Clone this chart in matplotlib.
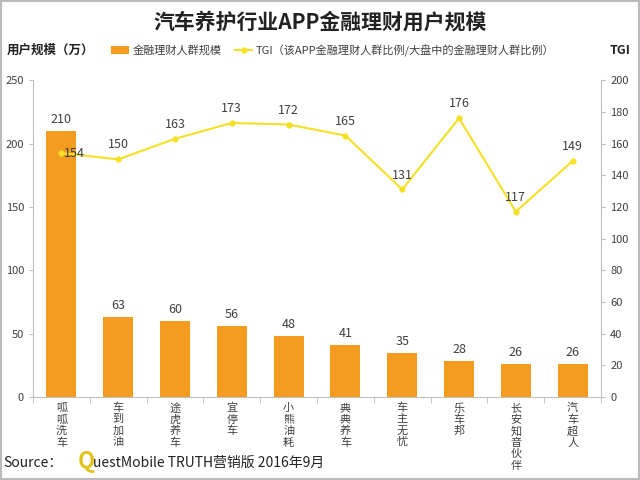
import matplotlib
matplotlib.use('Agg')
import matplotlib.pyplot as plt
import numpy as np

plt.rcParams['font.family'] = ['Noto Sans CJK SC', 'DejaVu Sans']

apps = ['呱呱洗车', '车到加油', '途虎养车', '宜停车', '小熊油耗',
        '典典养车', '车主无忧', '乐车邦', '长安知音伙伴', '汽车超人']
users = [210, 63, 60, 56, 48, 41, 35, 28, 26, 26]
tgi = [154, 150, 163, 173, 172, 165, 131, 176, 117, 149]

bar_color = '#F39C1F'
line_color = '#F5E026'
text_color = '#404040'

fig = plt.figure(figsize=(6.4, 4.8), dpi=100)
fig.patches.append(plt.Rectangle((0.002, 0.002), 0.996, 0.996, transform=fig.transFigure,
                                 fill=False, edgecolor='#BBBBBB', linewidth=1.5))

ax = fig.add_axes([0.0516, 0.173, 0.8875, 0.66])
x = np.arange(len(apps))
ax.bar(x, users, width=0.53, color=bar_color, label='金融理财人群规模')
for xi, v in zip(x, users):
    ax.text(xi, v + 4, str(v), ha='center', va='bottom', fontsize=9, color=text_color)

ax.set_ylim(0, 250)
ax.set_yticks(range(0, 251, 50))
ax.set_xlim(-0.5, len(apps) - 0.5)
ax.set_xticks(x)
ax.set_xticklabels([])
# vertical (stacked) category labels, one character per row
for xi, name in zip(x, apps):
    for j, ch in enumerate(name):
        ax.annotate(ch, xy=(xi, 0), xycoords=('data', 'axes fraction'),
                    xytext=(0, -6 - j * 11.5), textcoords='offset pixels',
                    ha='center', va='top', fontsize=8, color=text_color)
ax.set_xticks(np.arange(-0.5, len(apps), 1), minor=True)
ax.tick_params(axis='x', which='major', length=0)
ax.tick_params(axis='x', which='minor', length=4, color='#BFBFBF')
ax.tick_params(axis='y', labelsize=8, colors=text_color, length=3, color='#BFBFBF')
for sp in ['top', 'right']:
    ax.spines[sp].set_visible(False)
for sp in ['left', 'bottom']:
    ax.spines[sp].set_color('#BFBFBF')

ax2 = ax.twinx()
ax2.plot(x, tgi, color=line_color, marker='o', markersize=3.5, linewidth=1.5,
         label='TGI（该APP金融理财人群比例/大盘中的金融理财人群比例）')
for i, (xi, v) in enumerate(zip(x, tgi)):
    if i == 0:
        ax2.text(xi + 0.05, v, str(v), ha='left', va='center', fontsize=9, color=text_color)
    else:
        ax2.text(xi, v + 5, str(v), ha='center', va='bottom', fontsize=9, color=text_color)
ax2.set_ylim(0, 200)
ax2.set_yticks(range(0, 201, 20))
ax2.tick_params(axis='y', labelsize=8, colors=text_color, length=3, color='#BFBFBF')
for sp in ['top', 'left', 'bottom']:
    ax2.spines[sp].set_visible(False)
ax2.spines['right'].set_color('#BFBFBF')

fig.text(0.5, 0.955, '汽车养护行业APP金融理财用户规模', ha='center', va='center',
         fontsize=15, fontweight='bold', color='#222222')
fig.text(0.01, 0.895, '用户规模（万）', ha='left', va='center', fontsize=9,
         fontweight='bold', color='#222222')
fig.text(0.985, 0.895, 'TGI', ha='right', va='center', fontsize=9,
         fontweight='bold', color='#222222')

h1, l1 = ax.get_legend_handles_labels()
h2, l2 = ax2.get_legend_handles_labels()
fig.legend(h1 + h2, l1 + l2, loc='center', bbox_to_anchor=(0.52, 0.895), ncol=2,
           frameon=False, fontsize=8, handlelength=1.6, handletextpad=0.3,
           columnspacing=1.2, labelcolor=text_color)

fig.text(0.005, 0.02, 'Source：', ha='left', va='bottom', fontsize=10, color='#222222')
fig.text(0.122, 0.015, 'Q', ha='left', va='bottom', fontsize=16, fontweight='bold', color='#E0C21A')
fig.text(0.145, 0.02, 'uestMobile TRUTH营销版 2016年9月', ha='left', va='bottom',
         fontsize=10, color='#222222')

fig.savefig('out.png', dpi=100)
